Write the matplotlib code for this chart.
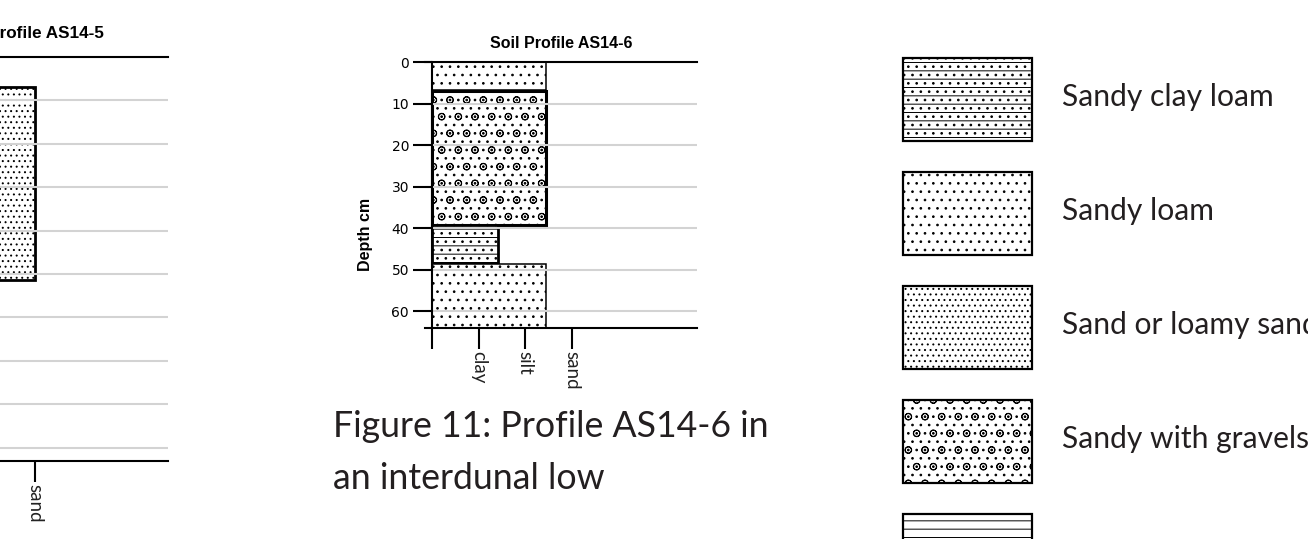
import matplotlib
matplotlib.use('Agg')
import matplotlib.pyplot as plt
from matplotlib.patches import Rectangle

W, H = 1308, 539

# texture classes on the x axis
tex_labels = ['', 'clay', 'silt', 'sand']
tex_pos = [0, 1, 2, 3]

# soil profile AS14-5 (cut off at the left of the page)
p5_top = [7]
p5_bottom = [51.5]
p5_width = [3]
p5_kind = ['sand']

# soil profile AS14-6
p6_top = [0, 7, 39.3, 48.7]
p6_bottom = [6.8, 39.3, 48.3, 64]
p6_width = [2.45, 2.45, 1.42, 2.45]
p6_kind = ['sandy_loam', 'gravel', 'sandy_clay_loam', 'sandy_loam']

# legend
leg_labels = ['Sandy clay loam', 'Sandy loam', 'Sand or loamy sand',
              'Sandy with gravels', 'Clayey loam']
leg_kind = ['sandy_clay_loam', 'sandy_loam', 'sand', 'gravel', 'clay']

hatches = {'sandy_clay_loam': '--..', 'sandy_loam': '..', 'sand': '...',
           'gravel': '..o', 'clay': '--'}
edge_lw = {'sandy_clay_loam': 2.0, 'sandy_loam': 1.1, 'sand': 2.0,
           'gravel': 2.2, 'clay': 1.6}

plt.rcParams['hatch.linewidth'] = 0.7
TXT = ['Lato', 'DejaVu Sans']
ARIAL = ['Liberation Sans', 'DejaVu Sans']


def px_axes(left, top, right, bottom):
    return fig.add_axes([left / W, 1 - bottom / H, (right - left) / W, (bottom - top) / H])


def profile(ax, tops, bottoms, widths, kinds, ymax, yticks, title, tsize, tpad):
    for t, b, w, k in zip(tops, bottoms, widths, kinds):
        ax.barh(t, w, height=b - t, left=0, align='edge', facecolor='white',
                edgecolor='black', hatch=hatches[k], linewidth=edge_lw[k])
    ax.set_xlim(-0.15, 5.68)
    ax.set_ylim(ymax, 0)
    ax.set_yticks(yticks)
    ax.set_yticklabels([str(v) for v in yticks], family=ARIAL, fontsize=8.5, color='#333333')
    ax.set_xticks(tex_pos)
    ax.set_xticklabels(tex_labels, family=TXT, fontsize=13.5, rotation=270,
                       color='#222222')
    ax.tick_params(axis='x', length=15, width=1.5, pad=1.5)
    ax.tick_params(axis='y', length=13.5, width=1.5, pad=3)
    ax.yaxis.grid(True, color='#d3d3d3', linewidth=1.5)
    ax.set_axisbelow(False)
    ax.spines['right'].set_visible(False)
    ax.spines['left'].set_position(('data', 0))
    for s in ax.spines.values():
        s.set_linewidth(1.5)
        s.set_zorder(3)
    ax.set_title(title, family=ARIAL, fontsize=tsize, fontweight='bold', pad=tpad)


fig = plt.figure(figsize=(W / 100, H / 100), dpi=100)

ax5 = px_axes(-121.4, 57, 167.7, 460.6)
profile(ax5, p5_top, p5_bottom, p5_width, p5_kind, 93, list(range(0, 100, 10)),
        'Soil Profile AS14-5', 12.3, 14)
ax5.title.set_x(0.515)

ax6 = px_axes(425, 62, 697, 328)
profile(ax6, p6_top, p6_bottom, p6_width, p6_kind, 64, list(range(0, 70, 10)),
        'Soil Profile AS14-6', 11.5, 10)
ax6.set_ylabel('Depth cm', family=ARIAL, fontsize=11.5, fontweight='bold')
ax6.yaxis.set_label_coords(-0.19, 0.3515)

# caption
fig.text(333 / W, 1 - 437 / H, 'Figure 11: Profile AS14-6 in', family=TXT,
         fontsize=25.7, color='#231f20', va='baseline')
fig.text(333 / W, 1 - 489 / H, 'an interdunal low', family=TXT,
         fontsize=25.7, color='#231f20', va='baseline')

# legend drawn as boxes on a page-sized axes
lax = fig.add_axes([0, 0, 1, 1], zorder=-1)
lax.set_xlim(0, W)
lax.set_ylim(H, 0)
lax.axis('off')
for i, (lab, k) in enumerate(zip(leg_labels, leg_kind)):
    top = 58 + i * 114
    lax.add_patch(Rectangle((903, top), 129, 83, facecolor='white', edgecolor='black',
                            hatch=hatches[k], linewidth=1.6))
    lax.text(1062, top + 39, lab, family=TXT, fontsize=21.6, color='#231f20',
             va='center', ha='left')

fig.savefig('out.png', dpi=100)
